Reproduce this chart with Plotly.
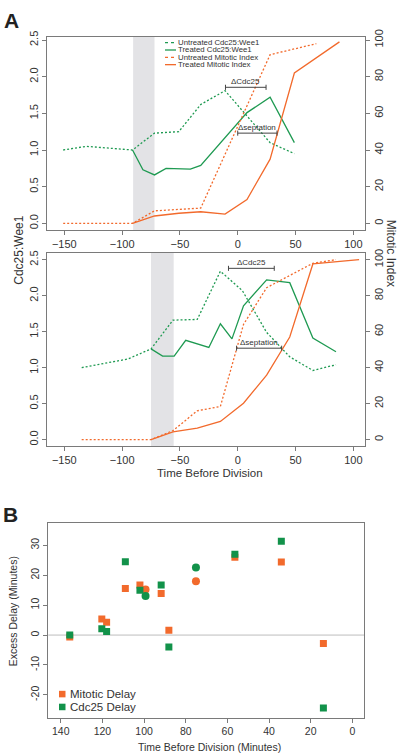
import plotly.graph_objects as go

# ---------------- DATA ----------------
# Panel A, top
top_untr_cdc_x = [-151, -131, -91, -72, -51, -32, -11, 8, 28, 49]
top_untr_cdc_y = [1.0, 1.05, 1.0, 1.23, 1.25, 1.62, 1.81, 1.46, 1.10, 0.95]
top_trt_cdc_x = [-91, -82, -72, -62, -41, -32, 8, 28, 49]
top_trt_cdc_y = [1.0, 0.73, 0.66, 0.75, 0.74, 0.79, 1.51, 1.72, 1.10]
top_untr_mi_x = [-151, -131, -91, -72, -51, -32, 28, 68]
top_untr_mi_y = [0, 0, 0, 6.8, 7.5, 8.3, 92, 98]
top_trt_mi_x = [-91, -72, -51, -32, -11, 8, 28, 49, 88]
top_trt_mi_y = [0, 4.0, 5.5, 6.3, 5.0, 13, 35, 82, 99]
top_band = [-90.5, -72]
top_dcdc25 = [-10.6, 24.5, 1.855]
top_dsept = [0, 34, 1.23]

# Panel A, bottom
bot_untr_cdc_x = [-135, -95, -75, -56, -35, -15, 4, 25, 45, 65, 85]
bot_untr_cdc_y = [1.0, 1.12, 1.26, 1.66, 1.67, 2.34, 2.07, 1.49, 1.15, 0.96, 1.04]
bot_trt_cdc_x = [-75, -65, -55, -45, -25, -15, -5, 5, 25, 45, 65, 85]
bot_trt_cdc_y = [1.26, 1.16, 1.16, 1.38, 1.28, 1.61, 1.40, 1.86, 2.22, 2.18, 1.41, 1.22]
bot_untr_mi_x = [-135, -95, -75, -56, -35, -15, 5, 25, 45, 65, 85]
bot_untr_mi_y = [0, 0, 0, 5, 16, 18.4, 64, 84.4, 91, 98, 100]
bot_trt_mi_x = [-75, -56, -35, -15, 5, 25, 45, 65, 105]
bot_trt_mi_y = [0, 4.3, 6.4, 10.1, 20.2, 35.8, 57, 97.6, 100]
bot_band = [-75, -55.4]
bot_dcdc25 = [-8, 31.6, 2.38]
bot_dsept = [-1, 38, 1.27]

# Panel B
mit_sq_x = [135.7, 120.3, 118, 109, 102, 91.8, 88.1, 56.4, 34.1, 13.9]
mit_sq_y = [-0.6, 5.4, 4.3, 15.6, 16.7, 13.9, 1.6, 26.0, 24.4, -2.8]
mit_ci_x = [99.3, 75.1]
mit_ci_y = [15.2, 18.0]
cdc_sq_x = [135.7, 120.3, 118, 109, 102, 91.8, 88.1, 56.4, 34.1, 13.9]
cdc_sq_y = [0.0, 2.1, 1.2, 24.5, 15.0, 16.7, -4.0, 27.0, 31.4, -24.4]
cdc_ci_x = [99.3, 75.1]
cdc_ci_y = [13.1, 22.6]

a_x_ticks = [-150, -100, -50, 0, 50, 100]
a_y_ticks = [0, 0.5, 1.0, 1.5, 2.0, 2.5]
a_y2_ticks = [0, 20, 40, 60, 80, 100]
b_x_ticks = [140, 120, 100, 80, 60, 40, 20, 0]
b_y_ticks = [-20, -10, 0, 10, 20, 30]
b_y_text = ["-20", "-10", "0", "10", "20", "30"]

legend_labels = ["Untreated Cdc25:Wee1", "Treated Cdc25:Wee1",
                 "Untreated Mitotic Index", "Treated Mitotic Index"]

# ---------------- STYLE ----------------
GREEN = "#1f9a52"
ORANGE = "#f26a2c"
BGREEN = "#12924a"
FRAME = "#7a7a7a"
TXT = "#333333"
FONT = "Liberation Sans, Arial, sans-serif"
W, H = 400, 756
DOT = "2px,2px"


def px2x(p):
    return p / W


def py2y(p):
    return 1 - p / H


fig = go.Figure()


def add_line(x, y, color, dash, xa, ya):
    fig.add_trace(go.Scatter(x=x, y=y, mode="lines", xaxis=xa, yaxis=ya,
                             line=dict(color=color, width=1.3, dash=dash),
                             showlegend=False, hoverinfo="skip"))


# top A
add_line(top_untr_cdc_x, top_untr_cdc_y, GREEN, DOT, "x", "y")
add_line(top_trt_cdc_x, top_trt_cdc_y, GREEN, "solid", "x", "y")
add_line(top_untr_mi_x, top_untr_mi_y, ORANGE, DOT, "x", "y2")
add_line(top_trt_mi_x, top_trt_mi_y, ORANGE, "solid", "x", "y2")
# bottom A
add_line(bot_untr_cdc_x, bot_untr_cdc_y, GREEN, DOT, "x2", "y3")
add_line(bot_trt_cdc_x, bot_trt_cdc_y, GREEN, "solid", "x2", "y3")
add_line(bot_untr_mi_x, bot_untr_mi_y, ORANGE, DOT, "x2", "y4")
add_line(bot_trt_mi_x, bot_trt_mi_y, ORANGE, "solid", "x2", "y4")

# B
def add_pts(x, y, color, symbol, size):
    fig.add_trace(go.Scatter(x=x, y=y, mode="markers", xaxis="x3", yaxis="y5",
                             marker=dict(color=color, symbol=symbol, size=size,
                                         line=dict(width=0)),
                             showlegend=False, hoverinfo="skip"))

add_pts(mit_sq_x, mit_sq_y, ORANGE, "square", 7)
add_pts(mit_ci_x, mit_ci_y, ORANGE, "circle", 8)
add_pts(cdc_sq_x, cdc_sq_y, BGREEN, "square", 7)
add_pts(cdc_ci_x, cdc_ci_y, BGREEN, "circle", 8)

shapes = []
annotations = []

# grey bands
for band, xr, yr in [(top_band, "x", "y"), (bot_band, "x2", "y3")]:
    shapes.append(dict(type="rect", xref=xr, yref=yr + " domain", x0=band[0], x1=band[1],
                       y0=0, y1=1, fillcolor="#e3e3e6", line=dict(width=0), layer="below"))

# zero line in B
shapes.append(dict(type="line", xref="x3 domain", yref="y5", x0=0, x1=1, y0=0, y1=0,
                   line=dict(color="#bdbdbd", width=1), layer="below"))

# delta bars
def delta_bar(vals, label, xr, yr):
    x0, x1, yv = vals
    shapes.append(dict(type="line", xref=xr, yref=yr, x0=x0, x1=x1, y0=yv, y1=yv,
                       line=dict(color="#444", width=1)))
    for xe in (x0, x1):
        shapes.append(dict(type="line", xref=xr, yref=yr, x0=xe, x1=xe,
                           y0=yv - 0.035, y1=yv + 0.035, line=dict(color="#444", width=1)))
    annotations.append(dict(xref=xr, yref=yr, x=(x0 + x1) / 2, y=yv, text=label,
                            showarrow=False, xanchor="center", yanchor="bottom", yshift=-1,
                            font=dict(family=FONT, size=8, color="#333")))

delta_bar(top_dcdc25, "ΔCdc25", "x", "y")
delta_bar(top_dsept, "Δseptation", "x", "y")
delta_bar(bot_dcdc25, "ΔCdc25", "x2", "y3")
delta_bar(bot_dsept, "Δseptation", "x2", "y3")

# manual legend top A
leg_rows = [36, 43.4, 50.8, 58.2]
leg_styles = [(GREEN, "dot"), (GREEN, "solid"), (ORANGE, "dot"), (ORANGE, "solid")]
for lab, ry, (c, d) in zip(legend_labels, leg_rows, leg_styles):
    shapes.append(dict(type="line", xref="paper", yref="paper", x0=px2x(165), x1=px2x(176),
                       y0=py2y(ry), y1=py2y(ry), line=dict(color=c, width=1.3, dash=d)))
    annotations.append(dict(xref="paper", yref="paper", x=px2x(177), y=py2y(ry), text=lab,
                            showarrow=False, xanchor="left", yanchor="middle", borderpad=0,
                            font=dict(family=FONT, size=7.8, color="#333")))

# legend B
for lab, ry, c in [("Mitotic Delay", 693.5, ORANGE), ("Cdc25 Delay", 706.5, BGREEN)]:
    shapes.append(dict(type="rect", xref="paper", yref="paper", x0=px2x(59), x1=px2x(65.5),
                       y0=py2y(ry - 3.3), y1=py2y(ry + 3.3), fillcolor=c, line=dict(width=0)))
    annotations.append(dict(xref="paper", yref="paper", x=px2x(67.5), y=py2y(ry), text=lab,
                            showarrow=False, xanchor="left", yanchor="middle",
                            font=dict(family=FONT, size=11.5, color="#333")))


def title(x, y, text, size, angle=0, bold=False):
    annotations.append(dict(xref="paper", yref="paper", x=px2x(x), y=py2y(y),
                            text=("<b>%s</b>" % text) if bold else text,
                            showarrow=False, textangle=angle, xanchor="center", yanchor="middle",
                            font=dict(family=FONT, size=size, color="#222" if bold else TXT)))


title(11, 14, "A", 21, bold=True)
title(10.5, 512, "B", 21, bold=True)
title(19, 246, "Cdc25:Wee1", 12, -90)
title(391, 248, "Mitotic Index", 12, 90)
title(210, 470, "Time Before Division", 11.5)
title(13, 610, "Excess Delay (Minutes)", 10.5, -90)
title(209, 747, "Time Before Division (Minutes)", 10.5)

XD = [px2x(47), px2x(365)]
XDB = [px2x(48.3), px2x(364)]
D_TOP = [py2y(225), py2y(30)]
D_BOT = [py2y(443.3), py2y(248.3)]
D_B = [py2y(717.3), py2y(521)]

tickfont = dict(family=FONT, size=11, color=TXT)
base = dict(showgrid=False, zeroline=False, showline=True, linecolor=FRAME, linewidth=1,
            ticks="outside", ticklen=4, tickcolor=FRAME, tickfont=tickfont)

fig.update_layout(
    width=W, height=H, margin=dict(l=0, r=0, t=0, b=0),
    paper_bgcolor="white", plot_bgcolor="white", showlegend=False,
    xaxis=dict(base, domain=XD, anchor="y", range=[-165, 110.1], tickvals=a_x_ticks, mirror=True),
    yaxis=dict(base, domain=D_TOP, anchor="x", range=[-0.09, 2.545], tickvals=a_y_ticks,
               tickformat=".1f", tickangle=-90, mirror=True),
    yaxis2=dict(base, domain=D_TOP, anchor="x", overlaying="y", side="right",
                range=[-3.6, 101.8], tickvals=a_y2_ticks, tickangle=-90),
    xaxis2=dict(base, domain=XD, anchor="y3", range=[-165, 110.1], tickvals=a_x_ticks, mirror=True),
    yaxis3=dict(base, domain=D_BOT, anchor="x2", range=[-0.092, 2.593], tickvals=a_y_ticks,
                tickformat=".1f", tickangle=-90, mirror=True),
    yaxis4=dict(base, domain=D_BOT, anchor="x2", overlaying="y3", side="right",
                range=[-3.68, 103.7], tickvals=a_y2_ticks, tickangle=-90),
    xaxis3=dict(base, domain=XDB, anchor="y5", range=[146, -5.6], tickvals=b_x_ticks, mirror=True,
                tickfont=dict(family=FONT, size=10.5, color=TXT)),
    yaxis5=dict(base, domain=D_B, anchor="x3", range=[-27.6, 37.4], tickvals=b_y_ticks,
                ticktext=b_y_text, tickangle=-90, mirror=True,
                tickfont=dict(family=FONT, size=10.5, color=TXT)),
    shapes=shapes, annotations=annotations,
)

fig.write_html("out.html", config={"displayModeBar": False},
               post_script="document.body.style.margin='0';document.body.style.padding='0';document.body.style.overflow='hidden';")
